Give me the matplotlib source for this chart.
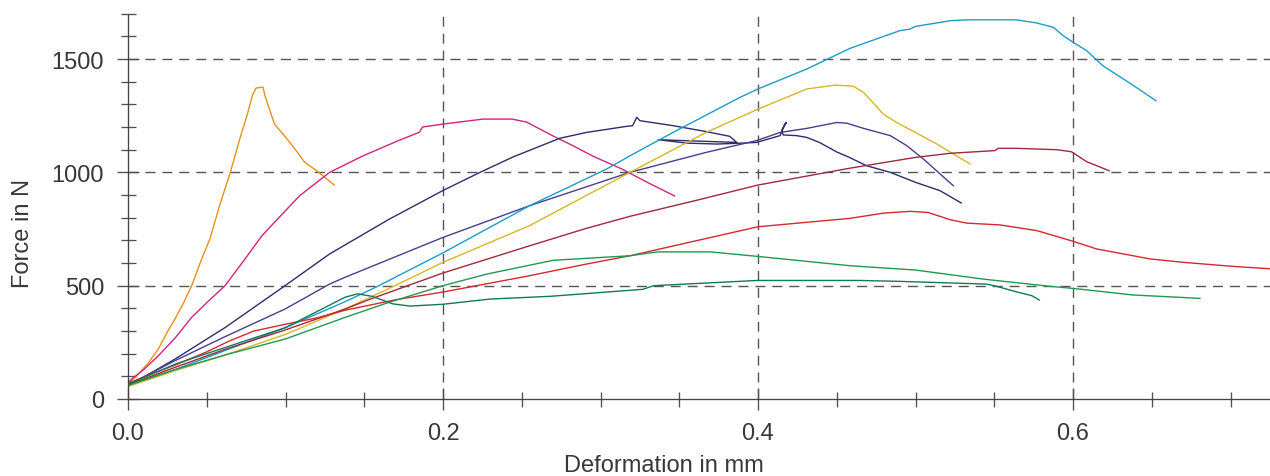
import matplotlib
matplotlib.use("Agg")
import matplotlib.pyplot as plt
from matplotlib.ticker import MultipleLocator, FixedLocator

plt.rcParams['font.family'] = ['Liberation Sans', 'DejaVu Sans']

# ---- data (deformation in mm, force in N) ----
orange_x = [0, 0.0066, 0.013, 0.0193, 0.025, 0.0298, 0.035, 0.0404, 0.0468, 0.052, 0.058, 0.065,
            0.0715, 0.0755, 0.079, 0.0813, 0.0857, 0.087, 0.093, 0.101, 0.107, 0.112, 0.120, 0.131]
orange_y = [66, 110, 160, 221, 296, 353, 420, 500, 618, 706, 850, 1001,
            1160, 1249, 1340, 1372, 1376, 1337, 1213, 1147, 1094, 1046, 1006, 944]

magenta_x = [0, 0.01, 0.0193, 0.03, 0.0404, 0.05, 0.0616, 0.0743, 0.085, 0.0944, 0.109, 0.128, 0.149,
             0.171, 0.185, 0.187, 0.200, 0.2254, 0.2438, 0.253, 0.270, 0.283, 0.295, 0.3135, 0.330, 0.347]
magenta_y = [75, 130, 191, 270, 360, 425, 500, 618, 720, 790, 897, 1000, 1072,
             1138, 1177, 1200, 1213, 1235, 1235, 1222, 1160, 1116, 1072, 1015, 955, 896]

navy_x = [0, 0.0298, 0.0616, 0.0997, 0.128, 0.166, 0.2, 0.2235, 0.2445, 0.274, 0.291, 0.3166, 0.3204,
          0.323, 0.325, 0.346, 0.367, 0.382, 0.3865, 0.3367, 0.3547, 0.3738, 0.3865, 0.399, 0.414,
          0.417, 0.418, 0.415, 0.416, 0.4245, 0.431, 0.439, 0.45, 0.458, 0.469, 0.484, 0.5, 0.5156, 0.529]
navy_y = [57, 176, 315, 500, 640, 794, 920, 1000, 1068, 1150, 1176, 1203, 1206,
          1243, 1228, 1206, 1180, 1159, 1132, 1144, 1129, 1125, 1128, 1132, 1162,
          1213, 1220, 1184, 1165, 1162, 1154, 1132, 1090, 1066, 1029, 1000, 956, 919, 865]

indigo_x = [0, 0.0298, 0.0616, 0.0997, 0.128, 0.1378, 0.2, 0.255, 0.3187, 0.367, 0.399, 0.414, 0.431,
            0.45, 0.4563, 0.467, 0.484, 0.4944, 0.505, 0.524]
indigo_y = [62, 169, 275, 397, 507, 537, 713, 853, 1000, 1088, 1140, 1176, 1194,
            1220, 1217, 1194, 1162, 1118, 1059, 941]

cyan_x = [0, 0.03, 0.062, 0.1, 0.138, 0.157, 0.2, 0.255, 0.304, 0.3187, 0.346, 0.3886, 0.4, 0.431,
          0.4584, 0.49, 0.4965, 0.5, 0.522, 0.5325, 0.564, 0.577, 0.5875, 0.5938, 0.6, 0.6087, 0.619,
          0.638, 0.6527]
cyan_y = [60, 130, 215, 315, 430, 492, 645, 853, 1015, 1073, 1176, 1331, 1368, 1456,
          1547, 1625, 1632, 1644, 1669, 1673, 1673, 1659, 1640, 1603, 1574, 1537, 1470,
          1385, 1316]

yellow_x = [0, 0.03, 0.062, 0.1, 0.138, 0.165, 0.2, 0.255, 0.3187, 0.367, 0.4, 0.431, 0.449, 0.4605,
            0.467, 0.4796, 0.488, 0.5, 0.5135, 0.5346]
yellow_y = [55, 125, 195, 285, 398, 485, 603, 765, 1000, 1176, 1279, 1368, 1385, 1380,
            1353, 1257, 1220, 1176, 1125, 1037]

darkred_x = [0, 0.03, 0.062, 0.1, 0.1378, 0.154, 0.2, 0.255, 0.2906, 0.3187, 0.36, 0.4, 0.458, 0.5,
             0.522, 0.5505, 0.5525, 0.564, 0.5896, 0.599, 0.6087, 0.623]
darkred_y = [62, 140, 220, 305, 397, 441, 556, 676, 752, 806, 875, 944, 1018, 1066,
             1084, 1096, 1106, 1106, 1100, 1091, 1047, 1007]

red_x = [0, 0.03, 0.05, 0.065, 0.08, 0.1, 0.12, 0.138, 0.17, 0.2, 0.255, 0.29, 0.3187, 0.4, 0.4584,
         0.4796, 0.4965, 0.508, 0.522, 0.5325, 0.5537, 0.577, 0.6, 0.615, 0.649, 0.67, 0.7018, 0.74]
red_y = [70, 150, 208, 258, 300, 330, 358, 392, 438, 472, 544, 594, 632, 760, 797,
         820, 828, 823, 791, 776, 768, 743, 696, 662, 618, 603, 585, 568]

green_x = [0, 0.03, 0.062, 0.1, 0.1378, 0.165, 0.2, 0.2277, 0.27, 0.3187, 0.336, 0.37, 0.4, 0.4584,
           0.5, 0.543, 0.5854, 0.6, 0.638, 0.6806]
green_y = [60, 130, 195, 265, 360, 425, 500, 551, 612, 632, 649, 649, 629, 588,
           569, 529, 497, 488, 459, 444]

dgreen_x = [0, 0.03, 0.062, 0.1, 0.1378, 0.1457, 0.155, 0.168, 0.179, 0.2, 0.23, 0.268, 0.327, 0.3337,
            0.3995, 0.4645, 0.49, 0.522, 0.545, 0.5516, 0.564, 0.5738, 0.5786]
dgreen_y = [65, 154, 228, 315, 449, 464, 453, 420, 410, 418, 441, 453, 484, 500,
            523, 523, 519, 512, 507, 497, 473, 456, 437]

series = [
    (orange_x, orange_y, '#EC8F1C'),
    (magenta_x, magenta_y, '#D3237E'),
    (navy_x, navy_y, '#2D2D6C'),
    (indigo_x, indigo_y, '#463F8F'),
    (cyan_x, cyan_y, '#1A9DC6'),
    (yellow_x, yellow_y, '#D8B527'),
    (darkred_x, darkred_y, '#A3283C'),
    (red_x, red_y, '#D52832'),
    (green_x, green_y, '#1E9A52'),
    (dgreen_x, dgreen_y, '#0F7C55'),
]

W, H = 1270, 477
fig = plt.figure(figsize=(W / 100, H / 100), dpi=100)
x0, y0, y1 = 128, 400, 14.7
ax = fig.add_axes([x0 / W, 1 - y0 / H, 1 - x0 / W, (y0 - y1) / H])

for xs, ys, c in series:
    ax.plot(xs, ys, color=c, lw=1.0, solid_joinstyle='round', zorder=3)

ax.set_xlim(0, (W - x0) / 1575)
ax.set_ylim(0, 1700)

ax.xaxis.set_major_locator(FixedLocator([0.0, 0.2, 0.4, 0.6]))
ax.xaxis.set_minor_locator(MultipleLocator(0.05))
ax.yaxis.set_major_locator(FixedLocator([0, 500, 1000, 1500]))
ax.yaxis.set_minor_locator(MultipleLocator(100))
ax.set_xticklabels(['0.0', '0.2', '0.4', '0.6'])
ax.set_yticklabels(['0', '500', '1000', '1500'])

tc = '#505050'
ax.tick_params(which='major', direction='inout', length=15.5, width=0.95, color=tc,
               labelsize=17, labelcolor='#383838')
ax.tick_params(axis='x', which='major', pad=8.8)
ax.tick_params(axis='y', which='major', pad=9.5)
ax.tick_params(which='minor', direction='inout', length=10.8, width=0.95, color=tc)

for s in ['top', 'right']:
    ax.spines[s].set_visible(False)
for s in ['left', 'bottom']:
    ax.spines[s].set_color('#444444')
    ax.spines[s].set_linewidth(0.95)
    ax.spines[s].set_zorder(4)

for v in [0.2, 0.4, 0.6]:
    ax.axvline(v, color='#555555', lw=1.0, dashes=(7.2, 5), zorder=1)
for v in [500, 1000, 1500]:
    ax.axhline(v, color='#555555', lw=1.0, dashes=(7.2, 5), zorder=1)

fig.text(663.5 / W, 1 - 472.5 / H, 'Deformation in mm', ha='center', va='baseline',
         fontsize=17, color='#383838')
fig.text(22.8 / W, 1 - 233.5 / H, 'Force in N', ha='center', va='center', rotation=90,
         fontsize=17, color='#383838')

fig.savefig('out.png', dpi=100)
